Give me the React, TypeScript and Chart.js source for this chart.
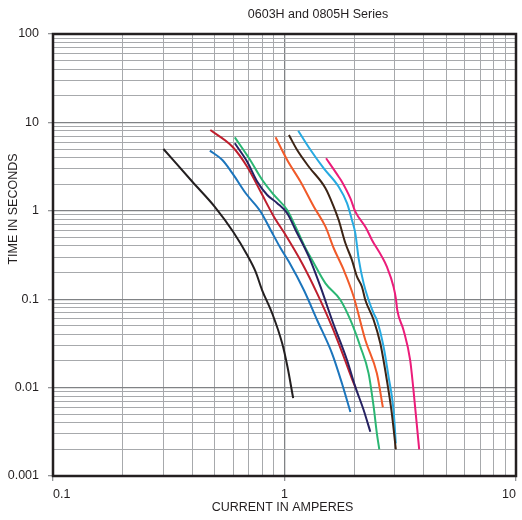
import React, { useEffect, useRef } from 'react';
import { Chart, registerables } from 'chart.js';

Chart.register(...registerables);

// ---- text ----
const chartTitle = '0603H and 0805H Series';
const xAxisTitle = 'CURRENT IN AMPERES';
const yAxisTitle = 'TIME IN SECONDS';
const xTickLabels = ['0.1', '1', '10'];
const yTickLabels = ['0.001', '0.01', '0.1', '1', '10', '100'];
const gridMultipliers = [1, 2, 3, 4, 5, 6, 7, 8, 9];

// ---- series (current in A, time in s) ----
const blackX = [0.30, 0.40, 0.50, 0.60, 0.69, 0.75, 0.80, 0.885, 0.977, 1.03, 1.09];
const blackY = [5.0, 2.13, 1.11, 0.58, 0.316, 0.205, 0.127, 0.069, 0.0317, 0.0172, 0.0076];

const blueX = [0.476, 0.539, 0.596, 0.68, 0.789, 0.871, 0.962, 1.045, 1.212, 1.383, 1.604, 1.77, 1.926];
const blueY = [4.79, 3.75, 2.65, 1.58, 0.977, 0.607, 0.377, 0.265, 0.127, 0.0582, 0.0244, 0.0112, 0.0053];

const navyX = [0.61, 0.69, 0.763, 0.842, 0.93, 1.027, 1.116, 1.274, 1.43, 1.604, 1.862, 2.023, 2.197, 2.348];
const navyY = [5.8, 3.59, 2.13, 1.51, 1.22, 0.937, 0.607, 0.303, 0.1385, 0.0582, 0.0205, 0.0102, 0.00558, 0.00317];

const redX = [0.478, 0.596, 0.69, 0.789, 0.9, 1.011, 1.191, 1.383, 1.604, 1.802, 1.99, 2.03];
const redY = [8.2, 5.31, 3.15, 1.64, 0.857, 0.532, 0.255, 0.1166, 0.0489, 0.0224, 0.0112, 0.0099];

const greenX = [0.61, 0.703, 0.802, 0.9, 1.027, 1.116, 1.233, 1.316, 1.503, 1.744, 1.926, 2.127, 2.308, 2.427, 2.506, 2.567];
const greenY = [6.78, 3.93, 2.23, 1.51, 1.02, 0.661, 0.377, 0.277, 0.151, 0.098, 0.0582, 0.029, 0.0145, 0.00608, 0.00304, 0.002];

const orangeX = [0.915, 1.027, 1.173, 1.339, 1.503, 1.632, 1.802, 1.99, 2.234, 2.506, 2.66];
const orangeY = [6.78, 3.76, 2.13, 1.11, 0.661, 0.377, 0.214, 0.1067, 0.0345, 0.0145, 0.006];

const brownX = [1.045, 1.134, 1.274, 1.503, 1.632, 1.714, 1.833, 1.956, 2.056, 2.16, 2.234, 2.427, 2.593, 2.767, 2.908, 3.026];
const brownY = [7.2, 4.87, 3.15, 1.8, 1.11, 0.787, 0.429, 0.277, 0.18, 0.1385, 0.098, 0.0582, 0.0317, 0.0122, 0.00512, 0.002];

const cyanX = [1.146, 1.296, 1.478, 1.714, 1.862, 1.956, 2.023, 2.09, 2.197, 2.308, 2.427, 2.506, 2.679, 2.815, 2.958, 3.026];
const cyanY = [8.06, 4.87, 3.02, 1.87, 1.22, 0.787, 0.556, 0.29, 0.151, 0.098, 0.0692, 0.0582, 0.029, 0.0133, 0.00558, 0.00234];

const magentaX = [1.512, 1.714, 1.77, 1.926, 2.023, 2.25, 2.386, 2.634, 2.767, 2.958, 3.03, 3.07, 3.266, 3.49, 3.606, 3.724, 3.817];
const magentaY = [3.93, 2.43, 2.13, 1.38, 0.977, 0.64, 0.468, 0.303, 0.233, 0.1385, 0.1, 0.075, 0.0449, 0.0205, 0.0094, 0.00394, 0.002];

const FONT_FAMILY = '"Liberation Sans", Arial, Helvetica, sans-serif';
const TEXT_COLOR = '#231f20';

const seriesList = [
  { name: 'black', xs: blackX, ys: blackY, color: '#231f20' },
  { name: 'blue', xs: blueX, ys: blueY, color: '#1c75bc' },
  { name: 'navy', xs: navyX, ys: navyY, color: '#262262' },
  { name: 'red', xs: redX, ys: redY, color: '#be1e2d' },
  { name: 'green', xs: greenX, ys: greenY, color: '#2bb673' },
  { name: 'orange', xs: orangeX, ys: orangeY, color: '#f15a29' },
  { name: 'brown', xs: brownX, ys: brownY, color: '#3c2415' },
  { name: 'cyan', xs: cyanX, ys: cyanY, color: '#27aae1' },
  { name: 'magenta', xs: magentaX, ys: magentaY, color: '#ec1c7a' },
];

function gridValues(labels: string[]): number[] {
  const decades = labels.map(Number);
  const out: number[] = [];
  decades.forEach((d, i) => {
    if (i === decades.length - 1) out.push(d);
    else gridMultipliers.forEach((m) => out.push(parseFloat((d * m).toPrecision(6))));
  });
  return out;
}

function labelFor(v: number, labels: string[]): string {
  const hit = labels.find((l) => Math.abs(Math.log10(Number(l)) - Math.log10(v)) < 1e-6);
  return hit ?? '';
}

function isDecade(v: number): boolean {
  const l = Math.log10(v);
  return Math.abs(l - Math.round(l)) < 1e-6;
}

const xGrid = gridValues(xTickLabels);
const yGrid = gridValues(yTickLabels);

const decorPlugin = {
  id: 'decor',
  afterDraw(chart: any) {
    const { ctx, chartArea } = chart;
    ctx.save();
    ctx.strokeStyle = '#231f20';
    ctx.lineWidth = 2.5;
    ctx.strokeRect(chartArea.left, chartArea.top, chartArea.right - chartArea.left, chartArea.bottom - chartArea.top);

    ctx.fillStyle = TEXT_COLOR;
    ctx.font = `12.5px ${FONT_FAMILY}`;
    ctx.textAlign = 'center';
    ctx.textBaseline = 'middle';
    ctx.fillText(chartTitle, 318, 14.3);
    ctx.fillText(xAxisTitle, 282.5, 508);

    ctx.translate(13.5, 209);
    ctx.rotate(-Math.PI / 2);
    ctx.fillText(yAxisTitle, 0, 0);
    ctx.restore();
  },
};

export default function App() {
  const canvasRef = useRef<HTMLCanvasElement | null>(null);

  useEffect(() => {
    if (!canvasRef.current) return;
    const gridColor = (ctx: any) => (ctx.tick && isDecade(ctx.tick.value) ? '#808285' : '#a7a9ac');
    const gridWidth = (ctx: any) => (ctx.tick && isDecade(ctx.tick.value) ? 1.3 : 1);
    const tickColor = (ctx: any) => (ctx.tick && isDecade(ctx.tick.value) ? '#939598' : 'rgba(0,0,0,0)');
    const chart = new Chart(canvasRef.current, {
      type: 'line',
      data: {
        datasets: seriesList.map((s) => ({
          label: s.name,
          data: s.xs.map((x, i) => ({ x, y: s.ys[i] })),
          borderColor: s.color,
          backgroundColor: s.color,
          borderWidth: 2,
          pointRadius: 0,
          fill: false,
          cubicInterpolationMode: 'monotone' as const,
        })),
      },
      options: {
        animation: false,
        responsive: false,
        maintainAspectRatio: false,
        events: [],
        layout: { padding: { top: 34, right: 4, left: 0, bottom: 0 } },
        plugins: {
          legend: { display: false },
          title: { display: false },
          tooltip: { enabled: false },
        },
        scales: {
          x: {
            type: 'logarithmic',
            min: 0.1,
            max: 10,
            afterBuildTicks: (s: any) => {
              s.ticks = xGrid.map((v) => ({ value: v }));
            },
            afterFit: (s: any) => {
              s.height = 44;
            },
            border: { display: false },
            grid: { color: gridColor, lineWidth: gridWidth, tickLength: 5, tickColor, drawTicks: true },
            ticks: {
              autoSkip: false,
              maxRotation: 0,
              minRotation: 0,
              align: 'inner',
              padding: 6,
              color: TEXT_COLOR,
              font: { family: FONT_FAMILY, size: 12.5 },
              callback: (v: any) => labelFor(Number(v), xTickLabels),
            },
          },
          y: {
            type: 'logarithmic',
            min: 0.001,
            max: 100,
            afterBuildTicks: (s: any) => {
              s.ticks = yGrid.map((v) => ({ value: v }));
            },
            afterFit: (s: any) => {
              s.width = 53;
            },
            border: { display: false },
            grid: { color: gridColor, lineWidth: gridWidth, tickLength: 5, tickColor, drawTicks: true },
            ticks: {
              autoSkip: false,
              padding: 9,
              color: TEXT_COLOR,
              font: { family: FONT_FAMILY, size: 12.5 },
              callback: (v: any) => labelFor(Number(v), yTickLabels),
            },
          },
        },
      } as any,
      plugins: [decorPlugin],
    });
    return () => chart.destroy();
  }, []);

  return (
    <div style={{ position: 'fixed', left: 0, top: 0, width: 522, height: 520, background: '#ffffff' }}>
      <canvas ref={canvasRef} width={522} height={520} style={{ display: 'block', width: 522, height: 520 }} />
    </div>
  );
}
